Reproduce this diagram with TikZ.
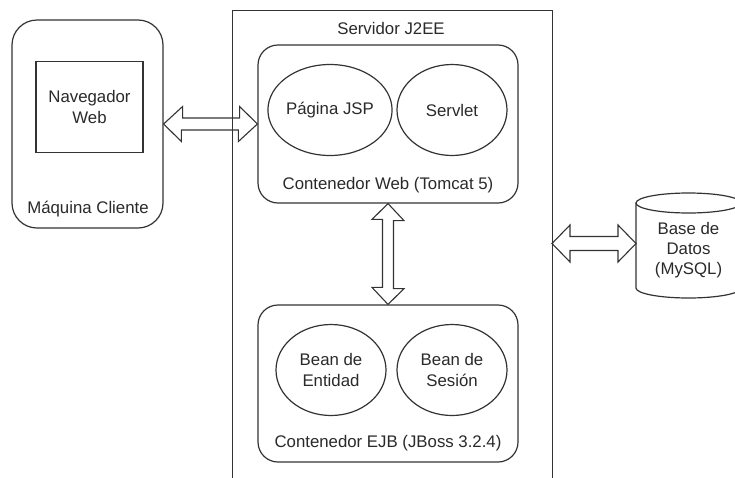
\documentclass[tikz,border=0pt]{standalone}
\usepackage{fontspec}
\setmainfont{Liberation Sans}
\usetikzlibrary{shapes.geometric}
\definecolor{ln}{HTML}{333333}
\definecolor{tx}{HTML}{2a2a2a}
\begin{document}
\begin{tikzpicture}[x=1pt,y=-1pt,
  every node/.style={font=\fontsize{16.8}{20.5}\selectfont, text=tx, inner sep=0pt},
  base/.style={draw=ln, line width=1.2pt},
  rbox/.style={base, rounded corners=#1},
  oval/.style={base, ellipse, minimum width=110pt, minimum height=91pt, align=center},
  lbl/.style={anchor=base, align=center},
  arr/.style={draw=ln, line width=1.1pt, line join=miter}
]
\useasboundingbox (0,0) rectangle (735,477);
\clip (0,0) rectangle (735,477);
\fill[white] (0,0) rectangle (735,477);

% client machine
\node[rbox=25pt, minimum width=151pt, minimum height=208pt] (client) at (87.5,124) {};
\node[base, minimum width=107pt, minimum height=91pt, align=center] (browser) at (89.5,107) {Navegador\\Web};
\node[lbl] (clientlbl) at (88,213) {Máquina Cliente};

% server
\node[base, anchor=north west, minimum width=320pt, minimum height=520pt] (server) at (232,10) {};
\node[lbl] (serverlbl) at (391,34) {Servidor J2EE};

% web container
\node[rbox=20pt, minimum width=260pt, minimum height=158pt] (web) at (388,124) {};
\node[oval] (jsp) at (330,110) {Página JSP};
\node[oval] (servlet) at (452,110) {Servlet};
\node[lbl] (weblbl) at (388,189) {Contenedor Web (Tomcat 5)};

% ejb container
\node[rbox=20pt, minimum width=260pt, minimum height=157pt] (ejb) at (388,383.5) {};
\node[oval] (entidad) at (331,370) {Bean de\\Entidad};
\node[oval] (sesion) at (452,370) {Bean de\\Sesión};
\node[lbl] (ejblbl) at (388,447) {Contenedor EJB (JBoss 3.2.4)};

% database cylinder
\draw[base] (636,203) -- (636,288) arc[start angle=180, end angle=360, x radius=52.5pt, y radius=10pt] -- (741,203);
\draw[base] (688.5,203) ellipse [x radius=52.5pt, y radius=10pt];
\node[lbl, font=\fontsize{16.8}{20}\selectfont] (db) at (688.5,274) {Base de\\Datos\\(MySQL)};
\coordinate (dbw) at (636,243.5);

% double arrows (hollow)
% client <-> web container
\draw[arr] (client.east) -- ++(19,-17.5) -- ++(0,11.5) -- ++(57,0) -- ++(0,-11.5) -- (web.west)
  -- ++(-19,17.5) -- ++(0,-11.5) -- ++(-57,0) -- ++(0,11.5) -- cycle;
% web container <-> ejb container
\draw[arr] (web.south) -- ++(16,17) -- ++(-10.5,0) -- ++(0,68) -- ++(10.5,0) -- (ejb.north)
  -- ++(-16,-17) -- ++(10.5,0) -- ++(0,-68) -- ++(-10.5,0) -- cycle;
% server <-> database
\coordinate (srvE) at (552,243.5);
\draw[arr] (srvE) -- ++(18,-18.5) -- ++(0,11.5) -- ++(48,0) -- ++(0,-11.5) -- (dbw)
  -- ++(-18,18.5) -- ++(0,-11.5) -- ++(-48,0) -- ++(0,11.5) -- cycle;
\end{tikzpicture}
\end{document}
